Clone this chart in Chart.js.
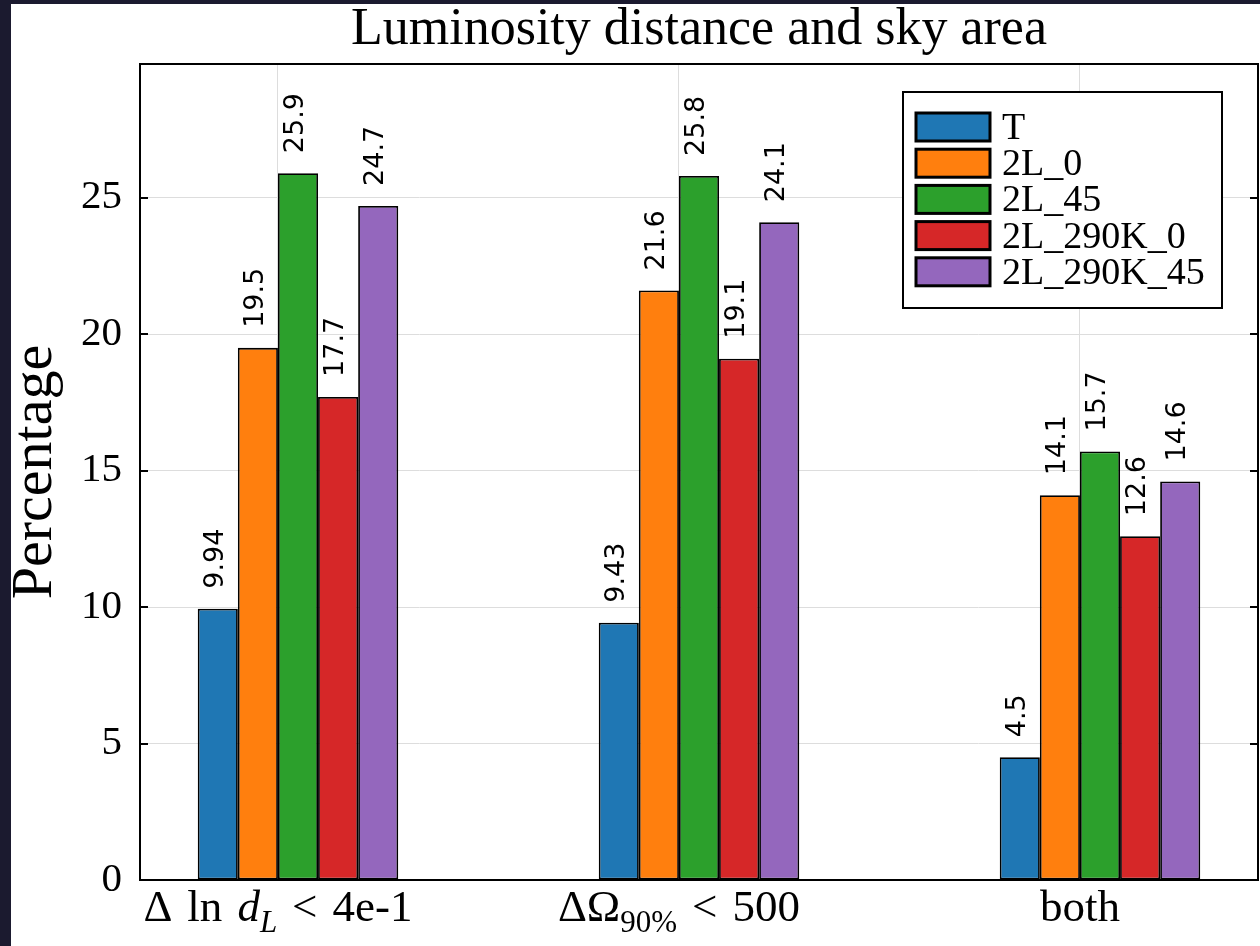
<!DOCTYPE html>
<html lang="en">
<head>
<meta charset="UTF-8">
<title>Luminosity distance and sky area</title>
<script src="https://cdn.jsdelivr.net/npm/chart.js"></script>
<style>
  html, body { margin: 0; padding: 0; background: #1b1a2f; overflow: hidden; }
  #wrap { position: absolute; left: 11px; top: 4px; width: 1249px; height: 942px; background: #fff; }
</style>
</head>
<body>
<div id="wrap"><canvas id="chart"></canvas></div>
<script>
// categories use a small TeX-like notation: _X or _{...} is a subscript
const categories = ['Δ ln d_L < 4e-1', 'ΔΩ_{90%} < 500', 'both'];
const seriesNames = ['T', '2L_0', '2L_45', '2L_290K_0', '2L_290K_45'];
const seriesT = [9.94, 9.43, 4.5];
const series2L0 = [19.5, 21.6, 14.1];
const series2L45 = [25.9, 25.8, 15.7];
const series2L290K0 = [17.7, 19.1, 12.6];
const series2L290K45 = [24.7, 24.1, 14.6];
const yTicks = [0, 5, 10, 15, 20, 25];

const allSeries = [seriesT, series2L0, series2L45, series2L290K0, series2L290K45];
const colors = ['#1f77b4', '#ff7f0e', '#2ca02c', '#d62728', '#9467bd'];
const SERIF = '"Liberation Serif", "Times New Roman", serif';
const SANS = '"DejaVu Sans", sans-serif';
const LABEL_SHIFT = -0.05; // tick labels / grid sit a bit left of group centre

function parseLabel(s) {
  const parts = [];
  let i = 0;
  while (i < s.length) {
    if (s[i] === '_') {
      let sub;
      if (s[i + 1] === '{') {
        const j = s.indexOf('}', i);
        sub = s.slice(i + 2, j);
        i = j + 1;
      } else {
        sub = s[i + 1];
        i += 2;
      }
      const prev = parts[parts.length - 1];
      if (prev && /[A-Za-z]$/.test(prev.text)) {
        const ch = prev.text.slice(-1);
        prev.text = prev.text.slice(0, -1);
        parts.push({ text: ch, italic: true });
      }
      parts.push({ text: sub, sub: true, italic: /^[A-Za-z]+$/.test(sub) });
    } else {
      let j = i;
      while (j < s.length && s[j] !== '_') j++;
      // math-ish spacing: a bit more air around words and relations
      parts.push({ text: s.slice(i, j).replace(/ /g, '\u2004') });
      i = j;
    }
  }
  return parts;
}

const decor = {
  id: 'decor',
  afterDatasetsDraw(chart) {
    const ctx = chart.ctx;
    ctx.save();
    ctx.fillStyle = '#000';
    ctx.font = '27px ' + SANS;
    ctx.textAlign = 'left';
    ctx.textBaseline = 'middle';
    chart.data.datasets.forEach((ds, di) => {
      chart.getDatasetMeta(di).data.forEach((bar, i) => {
        ctx.save();
        ctx.translate(bar.x - 2, bar.y - 20);
        ctx.rotate(-Math.PI / 2);
        ctx.fillText(String(ds.data[i].y), 0, 0);
        ctx.restore();
      });
    });
    ctx.restore();
  },
  afterDraw(chart) {
    const ctx = chart.ctx;
    const a = chart.chartArea;
    const ys = chart.scales.y;
    const xs = chart.scales.x;
    ctx.save();

    // frame and inward ticks
    ctx.strokeStyle = '#000';
    ctx.lineWidth = 2;
    ctx.strokeRect(a.left, a.top, a.right - a.left, a.bottom - a.top);
    ctx.beginPath();
    yTicks.forEach(v => {
      const y = Math.round(ys.getPixelForValue(v));
      ctx.moveTo(a.left, y); ctx.lineTo(a.left + 8, y);
      ctx.moveTo(a.right, y); ctx.lineTo(a.right - 8, y);
    });
    ctx.stroke();

    // x category labels
    ctx.fillStyle = '#000';
    ctx.textBaseline = 'alphabetic';
    ctx.textAlign = 'left';
    const base = 45, subSize = 31;
    categories.forEach((c, i) => {
      const parts = parseLabel(c);
      const fonts = parts.map(p => (p.italic ? 'italic ' : '') + (p.sub ? subSize : base) + 'px ' + SERIF);
      let total = 0;
      const widths = parts.map((p, k) => { ctx.font = fonts[k]; const w = ctx.measureText(p.text).width; total += w; return w; });
      let x = xs.getPixelForValue(i + LABEL_SHIFT) - total / 2;
      const y = a.bottom + 41;
      parts.forEach((p, k) => {
        ctx.font = fonts[k];
        ctx.fillText(p.text, x, y + (p.sub ? 11 : 0));
        x += widths[k];
      });
    });

    // legend box
    const lx = a.right - 355, ly = a.top + 28, lw = 319, lh = 216;
    ctx.fillStyle = '#fff';
    ctx.fillRect(lx, ly, lw, lh);
    ctx.lineWidth = 2;
    ctx.strokeRect(lx, ly, lw, lh);
    ctx.font = '38px ' + SERIF;
    ctx.textBaseline = 'middle';
    chart.data.datasets.forEach((ds, i) => {
      const cy = ly + 35 + i * 36.2;
      ctx.fillStyle = ds.backgroundColor;
      ctx.fillRect(lx + 13, cy - 14, 74, 28);
      ctx.lineWidth = 3;
      ctx.strokeStyle = '#000';
      ctx.strokeRect(lx + 13, cy - 14, 74, 28);
      ctx.fillStyle = '#000';
      ctx.fillText(ds.label, lx + 99, cy + 2);
    });
    ctx.restore();
  }
};

new Chart(document.getElementById('chart'), {
  type: 'bar',
  data: {
    datasets: allSeries.map((vals, k) => ({
      label: seriesNames[k],
      data: vals.map((v, i) => ({ x: i, y: v })),
      backgroundColor: colors[k],
      borderColor: '#000',
      borderWidth: 1.8,
      borderSkipped: false,
      categoryPercentage: 0.5,
      barPercentage: 1.0
    }))
  },
  options: {
    responsive: true,
    maintainAspectRatio: false,
    animation: false,
    devicePixelRatio: 1,
    layout: { padding: { left: 0, right: 2, top: 0, bottom: 0 } },
    plugins: {
      legend: { display: false },
      tooltip: { enabled: false },
      title: {
        display: true,
        fullSize: false,
        text: 'Luminosity distance and sky area',
        color: '#000',
        font: { family: SERIF, size: 52, weight: 'normal', lineHeight: 1.0 },
        padding: { top: 0, bottom: 8 }
      }
    },
    scales: {
      x: {
        type: 'linear',
        min: -0.394,
        max: 2.394,
        offset: false,
        grid: { color: '#dddddd', drawTicks: false, offset: false },
        border: { display: false },
        ticks: { display: false },
        afterBuildTicks: s => { s.ticks = categories.map((c, i) => ({ value: i + LABEL_SHIFT })); },
        afterFit: s => { s.height = 66; }
      },
      y: {
        min: 0,
        max: 29.9,
        grid: { color: '#dddddd', drawTicks: false },
        border: { display: false },
        ticks: { color: '#000', padding: 18, font: { family: SERIF, size: 41 } },
        afterBuildTicks: s => { s.ticks = yTicks.map(v => ({ value: v })); },
        title: {
          display: true,
          text: 'Percentage',
          color: '#000',
          font: { family: SERIF, size: 58, lineHeight: 0.8 },
          padding: { top: 2, bottom: 0 }
        },
        afterFit: s => { s.width = 129; }
      }
    }
  },
  plugins: [decor]
});
</script>
</body>
</html>
